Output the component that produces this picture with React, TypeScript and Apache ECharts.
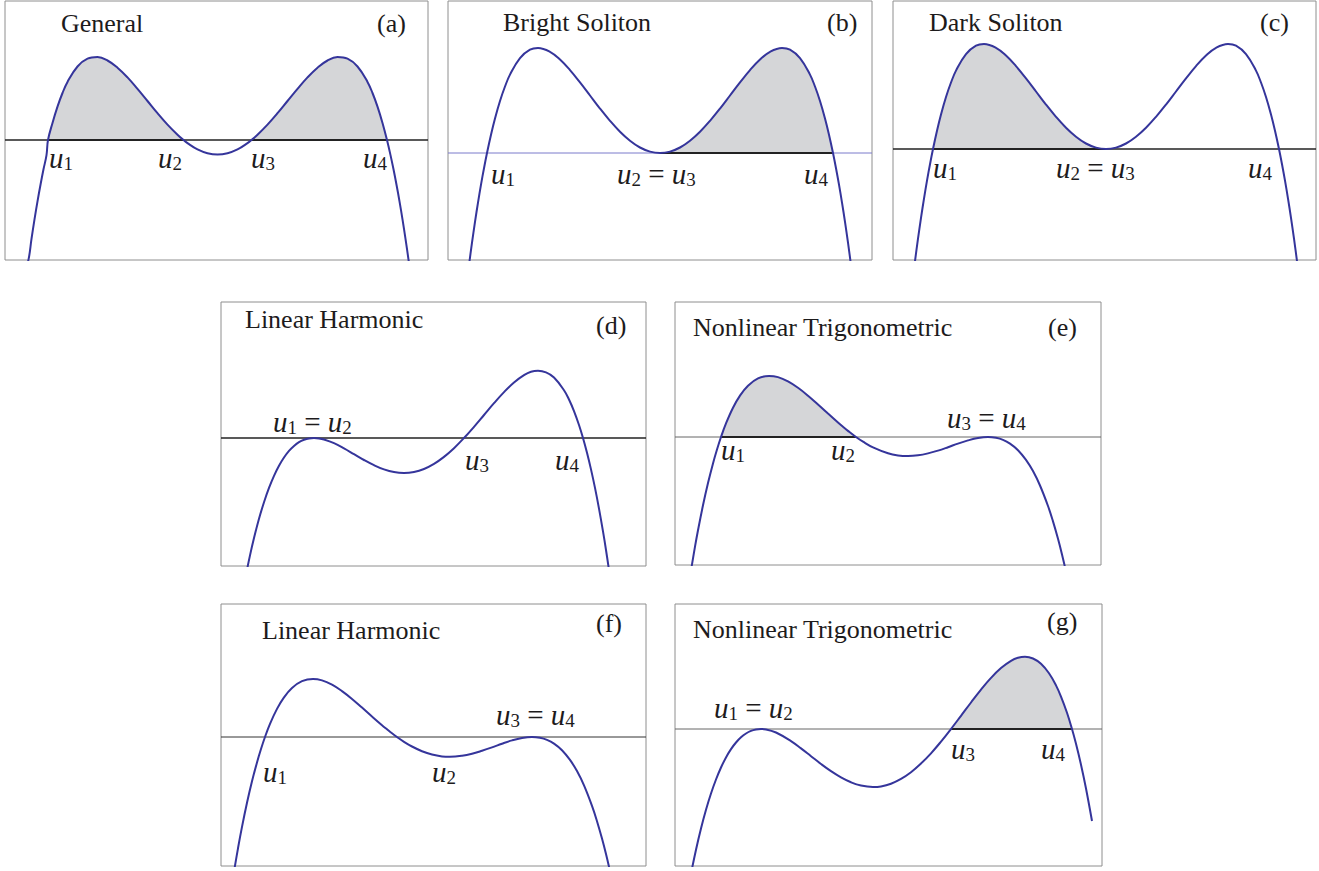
import React, { useEffect, useRef } from "react";
import * as echarts from "echarts";

// ---- curve samples V(u) (u: offset from panel's left edge, V: height above the V=0 line) ----
const curveA: number[][] = [
  [20.5, -126.8], [23.5, -119.6], [26.5, -98.8], [29.5, -79.4], [32.5, -61.3], [35.5, -44.7], [38.5, -29.3], [41.5, -15.1],
  [43, 0], [47.5, 17.1], [52.5, 33.4], [57.5, 47], [62.5, 58.1], [72.5, 73.5], [82.5, 81.3], [92.5, 82.9],
  [102.5, 79.5], [112.5, 72.3], [122.5, 62.6], [132.5, 51.1], [142.5, 39], [152.5, 26.8], [162.5, 15.4], [172.5, 5.3],
  [178.5, 0], [182.5, -3.1], [192.5, -9.4], [202.5, -13.2], [212.5, -14.5], [222.5, -13.2], [232.5, -9.4], [242.5, -3.1],
  [246.5, 0], [252.5, 5.3], [262.5, 15.4], [272.5, 26.8], [282.5, 39], [292.5, 51.1], [302.5, 62.6], [312.5, 72.3],
  [322.5, 79.5], [332.5, 82.9], [342.5, 81.3], [352.5, 73.5], [362.5, 58.1], [367.5, 47], [372.5, 33.4], [377.5, 17.1],
  [382, 0], [385.5, -15.1], [388.5, -29.3], [391.5, -44.7], [394.5, -61.3], [397.5, -79.4], [400.5, -98.8], [403.5, -119.6],
  [404.5, -126.8],
];
const curveB: number[][] = [
  [19, -127.9], [21, -112.1], [24, -89.7], [27, -68.9], [30, -49.6], [33, -31.7], [36, -15.2], [39, 0], [43, 18.3],
  [47, 34.5], [52, 52], [57, 66.5], [62, 78.4], [72, 94.9], [82, 103.3], [90, 105], [102, 101.2], [112, 93.5],
  [122, 82.9], [132, 70.6], [142, 57.5], [152, 44.4], [162, 32.2], [172, 21.3], [182, 12.3], [192, 5.5], [202, 1.4],
  [212, 0], [222, 1.4], [232, 5.5], [242, 12.3], [252, 21.3], [262, 32.2], [272, 44.4], [282, 57.5], [292, 70.6],
  [302, 82.9], [312, 93.5], [322, 101.2], [334, 105], [342, 103.3], [352, 94.9], [362, 78.4], [367, 66.5], [372, 52],
  [377, 34.5], [381, 18.3], [385, 0], [388, -15.2], [391, -31.7], [394, -49.6], [397, -68.9], [400, -89.7], [403, -112.1],
  [405, -127.9],
];
const curveC: number[][] = [
  [20, -127.9], [22, -112.1], [25, -89.7], [28, -68.9], [31, -49.6], [34, -31.7], [37, -15.2], [40, 0], [44, 18.3],
  [48, 34.5], [53, 52], [58, 66.5], [63, 78.4], [73, 94.9], [83, 103.3], [91, 105], [103, 101.2], [113, 93.5],
  [123, 82.9], [133, 70.6], [143, 57.5], [153, 44.4], [163, 32.2], [173, 21.3], [183, 12.3], [193, 5.5], [203, 1.4],
  [213, 0], [223, 1.4], [233, 5.5], [243, 12.3], [253, 21.3], [263, 32.2], [273, 44.4], [283, 57.5], [293, 70.6],
  [303, 82.9], [313, 93.5], [323, 101.2], [335, 105], [343, 103.3], [353, 94.9], [363, 78.4], [368, 66.5], [373, 52],
  [378, 34.5], [382, 18.3], [386, 0], [389, -15.2], [392, -31.7], [395, -49.6], [398, -68.9], [401, -89.7], [404, -112.1],
  [406, -127.9],
];
const curveD: number[][] = [
  [25, -136.7], [29, -117.4], [33, -100.1], [38, -80.8], [43, -64.2], [48, -49.9], [53, -37.8], [58, -27.7], [63, -19.5],
  [68, -12.9], [73, -7.9], [78, -4.2], [83, -1.8], [88, -0.4], [93, 0], [98, -0.4], [103, -1.5], [113, -5.2], [123, -10.4],
  [133, -16.2], [143, -22], [153, -27.2], [163, -31.4], [173, -34.1], [183, -35], [193, -34], [203, -31], [213, -25.9],
  [223, -18.9], [233, -10.2], [243, 0], [253, 11.2], [263, 23], [273, 34.8], [283, 45.9], [293, 55.5], [303, 62.8],
  [310, 66.2], [317, 67.2], [325, 65.6], [333, 60.5], [343, 47.8], [348, 38.5], [353, 26.9], [358, 13], [362, 0], [366, -14.8],
  [370, -31.4], [374, -49.9], [378, -70.6], [382, -93.4], [385, -112], [388, -132],
];
const curveE: number[][] = [
  [16, -133.3], [20, -109.7], [23, -93.3], [28, -68.3], [33, -46.1], [38, -26.4], [42, -12.5], [46, 0], [51, 13.6],
  [58, 29.3], [65, 41.4], [73, 51.3], [83, 58.6], [94, 61.1], [103, 59.9], [113, 55.6], [123, 49.2], [133, 41.3],
  [143, 32.5], [153, 23.4], [163, 14.5], [168, 10.2], [173, 6.1], [181, 0], [188, -4.7], [198, -10.4], [213, -16.3],
  [223, -18.4], [233, -19], [243, -18.3], [253, -16.4], [263, -13.6], [273, -10.2], [283, -6.6], [293, -3.4], [303, -1],
  [313, 0], [321, -0.8], [328, -2.8], [335, -6.6], [343, -13.2], [351, -22.9], [358, -34.1], [365, -48.5], [373, -69],
  [378, -84.4], [383, -101.8], [387, -117.4], [391, -134.6],
];
const curveF: number[][] = [
  [13, -134.6], [17, -111.3], [21, -89.9], [26, -65.8], [31, -44.3], [36, -25.4], [40, -12], [44, 0], [49, 13.1],
  [56, 28.1], [63, 39.6], [71, 49], [81, 55.8], [92, 58], [101, 56.6], [111, 52.3], [121, 45.9], [131, 38.1],
  [141, 29.4], [151, 20.5], [161, 11.8], [166, 7.7], [171, 3.7], [176, 0], [183, -4.8], [191, -9.5], [201, -14.2],
  [211, -17.5], [221, -19.4], [229, -19.8], [241, -18.8], [251, -16.8], [261, -13.8], [271, -10.4], [281, -6.7],
  [291, -3.4], [301, -1], [311, 0], [319, -0.8], [326, -2.9], [333, -6.6], [341, -13.2], [349, -22.9], [356, -34.1],
  [363, -48.4], [371, -68.9], [376, -84.2], [381, -101.6], [385, -117.1], [389, -134.1],
];
const curveG: number[][] = [
  [16, -144.6], [21, -120.7], [26, -99.5], [31, -80.8], [36, -64.5], [41, -50.5], [46, -38.5], [51, -28.4], [56, -20.1],
  [61, -13.5], [66, -8.3], [71, -4.5], [76, -1.9], [81, -0.5], [86, 0], [91, -0.4], [101, -3.5], [116, -12.1],
  [126, -19.4], [136, -27.2], [146, -35], [156, -42.2], [166, -48.4], [176, -53.3], [186, -56.6], [198, -58],
  [206, -57.4], [216, -54.7], [226, -49.9], [236, -43.2], [246, -34.5], [256, -24.3], [266, -12.6], [276, 0],
  [286, 13.2], [296, 26.5], [306, 39.4], [316, 51.1], [326, 60.9], [336, 68.1], [343, 71.2], [350, 72.2], [358, 70.5], [366, 65.2],
  [374, 55.7], [381, 43.6], [386, 32.4], [392, 16.2], [397, 0], [401, -14.8], [406, -35.7], [411, -59.5], [417, -92],
];

// shaded intervals between roots, in the same u units
const shadeA = [[43, 178.5], [246.5, 382]];
const shadeB = [[212, 385]];
const shadeC = [[40, 213]];
const shadeE = [[46, 181]];
const shadeG = [[276, 397]];

const titles = [
  "General", "Bright Soliton", "Dark Soliton", "Linear Harmonic",
  "Nonlinear Trigonometric", "Linear Harmonic", "Nonlinear Trigonometric",
];
const tags = ["(a)", "(b)", "(c)", "(d)", "(e)", "(f)", "(g)"];

// ---- layout & style (pixels) ----
const INK = "#1d1b1c";
const CURVE = "#35359b";
const FILL = "#d5d6d8";
const BORDER = "#8e8e8e";
const SERIF = "'Liberation Serif', 'Times New Roman', serif";

const PANELS = [
  { left: 5, top: 1, width: 423, height: 259, yMin: -120, yMax: 139, curve: curveA, shade: shadeA, base: "#222", baseW: 1.5,
    title: [61, 32], tag: [377, 32] },
  { left: 448, top: 1, width: 424, height: 259, yMin: -107, yMax: 152, curve: curveB, shade: shadeB, base: "#7a7acb", baseW: 1,
    title: [503, 31], tag: [827, 31] },
  { left: 893, top: 1, width: 423, height: 259, yMin: -111, yMax: 148, curve: curveC, shade: shadeC, base: "#222", baseW: 1.5,
    title: [929, 31], tag: [1260, 31] },
  { left: 221, top: 302, width: 425, height: 264, yMin: -128, yMax: 136, curve: curveD, shade: [], base: "#222", baseW: 1.5,
    title: [245, 328], tag: [596, 334] },
  { left: 675, top: 302, width: 426, height: 263, yMin: -128, yMax: 135, curve: curveE, shade: shadeE, base: "#666", baseW: 1,
    title: [693, 336], tag: [1048, 336] },
  { left: 221, top: 604, width: 425, height: 262, yMin: -129, yMax: 133, curve: curveF, shade: [], base: "#333", baseW: 1,
    title: [262, 639], tag: [596, 632] },
  { left: 675, top: 604, width: 427, height: 262, yMin: -137, yMax: 125, curve: curveG, shade: shadeG, base: "#666", baseW: 1,
    title: [693, 638], tag: [1047, 630] },
];

const ROOT_LABELS: [number, number, string][] = [
  [49, 168, "{u|u}{s|1}"], [158, 168, "{u|u}{s|2}"], [251, 168, "{u|u}{s|3}"], [363, 168, "{u|u}{s|4}"],
  [491, 184, "{u|u}{s|1}"], [617, 184, "{u|u}{s|2}{e| = }{u|u}{s|3}"], [804, 184, "{u|u}{s|4}"],
  [933, 178, "{u|u}{s|1}"], [1056, 178, "{u|u}{s|2}{e| = }{u|u}{s|3}"], [1248, 178, "{u|u}{s|4}"],
  [273, 432, "{u|u}{s|1}{e| = }{u|u}{s|2}"], [465, 470, "{u|u}{s|3}"], [555, 470, "{u|u}{s|4}"],
  [721, 460, "{u|u}{s|1}"], [831, 460, "{u|u}{s|2}"], [947, 428, "{u|u}{s|3}{e| = }{u|u}{s|4}"],
  [263, 782, "{u|u}{s|1}"], [432, 782, "{u|u}{s|2}"], [496, 725, "{u|u}{s|3}{e| = }{u|u}{s|4}"],
  [714, 718, "{u|u}{s|1}{e| = }{u|u}{s|2}"], [951, 759, "{u|u}{s|3}"], [1041, 759, "{u|u}{s|4}"],
];

const RICH = {
  u: { fontFamily: SERIF, fontStyle: "italic", fontSize: 29, lineHeight: 29, verticalAlign: "bottom", fill: INK },
  s: { fontFamily: SERIF, fontSize: 19, lineHeight: 19, verticalAlign: "bottom", fill: INK },
  e: { fontFamily: SERIF, fontSize: 29, lineHeight: 29, verticalAlign: "bottom", fill: INK },
};

function buildOption() {
  const grid: any[] = [];
  const xAxis: any[] = [];
  const yAxis: any[] = [];
  const series: any[] = [];
  const graphic: any[] = [];

  PANELS.forEach((p, i) => {
    grid.push({ left: p.left, top: p.top, width: p.width, height: p.height, show: true, borderColor: BORDER, borderWidth: 1, backgroundColor: "transparent" });
    xAxis.push({ type: "value", gridIndex: i, min: 0, max: p.width, show: false });
    yAxis.push({ type: "value", gridIndex: i, min: p.yMin, max: p.yMax, show: false });

    p.shade.forEach(([a, b]) => {
      series.push({
        type: "line", xAxisIndex: i, yAxisIndex: i, smooth: 0.4, symbol: "none", silent: true, z: 1,
        data: p.curve.filter((d) => d[0] >= a && d[0] <= b),
        lineStyle: { width: 0, opacity: 0 },
        areaStyle: { color: FILL, opacity: 1, origin: "auto" },
      });
    });

    series.push({
      type: "line", xAxisIndex: i, yAxisIndex: i, symbol: "none", silent: true, z: 2,
      data: [[0, 0], [p.width, 0]],
      lineStyle: { color: p.base, width: p.baseW },
    });
    p.shade.forEach(([a, b]) => {
      series.push({
        type: "line", xAxisIndex: i, yAxisIndex: i, symbol: "none", silent: true, z: 2,
        data: [[a, 0], [b, 0]],
        lineStyle: { color: "#222", width: 1.8 },
      });
    });

    series.push({
      type: "line", xAxisIndex: i, yAxisIndex: i, smooth: 0.4, symbol: "none", silent: true, z: 3,
      data: p.curve,
      lineStyle: { color: CURVE, width: 2 },
    });

    graphic.push({
      type: "text", x: p.title[0], y: p.title[1] - 8.8, silent: true,
      style: { text: titles[i], font: `26px ${SERIF}`, fill: INK, verticalAlign: "middle", textVerticalAlign: "middle" },
    });
    graphic.push({
      type: "text", x: p.tag[0], y: p.tag[1] - 8.8, silent: true,
      style: { text: tags[i], font: `26px ${SERIF}`, fill: INK, verticalAlign: "middle", textVerticalAlign: "middle" },
    });
  });

  ROOT_LABELS.forEach(([x, base, t]) => {
    graphic.push({
      type: "text", x, y: base - 24.3, silent: true,
      style: { text: t, rich: RICH, font: `29px ${SERIF}`, fill: INK, verticalAlign: "top", textVerticalAlign: "top" },
    });
  });

  return { animation: false, backgroundColor: "#ffffff", grid, xAxis, yAxis, series, graphic };
}

export default function App() {
  const ref = useRef<HTMLDivElement>(null);
  useEffect(() => {
    document.body.style.margin = "0";
    if (!ref.current) return;
    const chart = echarts.init(ref.current, undefined, { renderer: "svg" });
    chart.setOption(buildOption() as any);
    return () => chart.dispose();
  }, []);
  return <div ref={ref} style={{ width: 1319, height: 871, position: "absolute", left: 0, top: 0 }} />;
}
